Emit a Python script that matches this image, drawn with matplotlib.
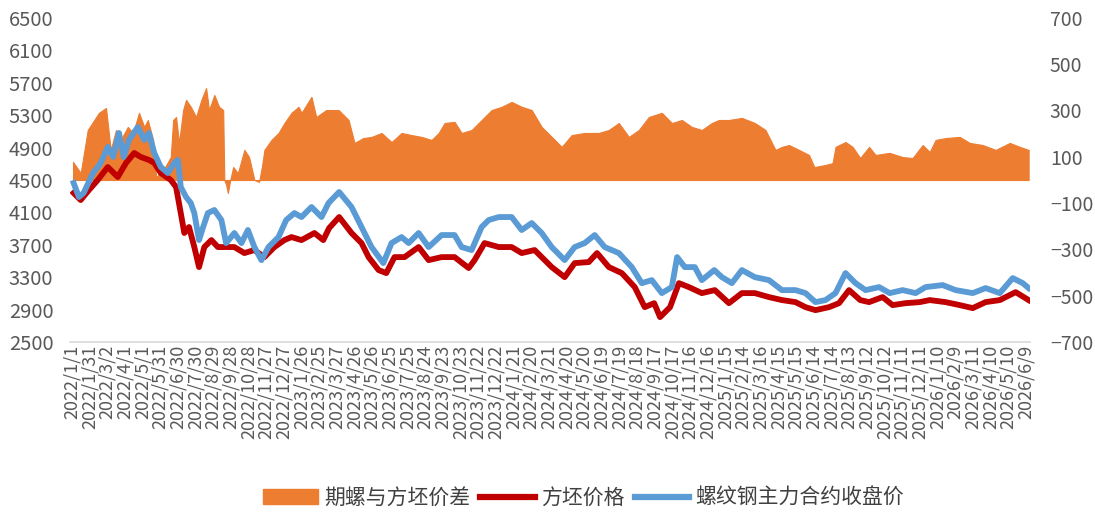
import matplotlib
matplotlib.use("Agg")
import matplotlib.pyplot as plt
from matplotlib.patches import Patch
from matplotlib.lines import Line2D
import pandas as pd

plt.rcParams['font.family'] = ['Noto Sans CJK SC', 'DejaVu Sans']

BASE = "2022-01-01"  # day offsets below are counted from this date

# 期螺与方坯价差 (right axis)
spread_days = [2, 15, 27, 46, 58, 66, 75, 83, 95, 104, 114, 123, 129, 138, 143, 155, 168,
               172, 177, 182, 189, 194, 202, 211, 220, 228, 233, 242, 250, 257, 259, 262, 265,
               269, 274, 282, 293, 301, 310, 318, 323, 327, 339, 351, 361, 373, 385,
               390, 407, 415, 432, 453, 470, 480, 495, 509, 526, 543, 560, 577, 594, 611, 623,
               633, 650, 662, 679, 696, 713, 730, 747, 764, 781, 798,
               815, 832, 849, 871, 895, 912, 929, 946, 963, 980, 1002, 1019, 1036, 1053, 1070,
               1087, 1099, 1116, 1138, 1160, 1178, 1195, 1206, 1218, 1235, 1252, 1261, 1280,
               1292, 1297, 1314, 1326, 1339, 1354, 1365, 1389, 1411, 1428, 1445, 1457, 1467,
               1484, 1508, 1525, 1547, 1569, 1593, 1610, 1625]
spread_vals = [78, 30, 216, 290, 311, 130, 216, 173, 229, 203, 290, 229, 259, 173, 13, 40, 100,
               259, 272, 160, 302, 346, 316, 272, 346, 397, 302, 367, 316, 302, 0, -20, -56,
               0, 56, 30, 130, 99, 0, -8, 60, 130, 173, 203, 246, 290, 316,
               290, 359, 272, 302, 302, 259, 160, 181, 186, 203, 164, 203, 194, 186, 173, 203,
               246, 251, 203, 216, 259, 302, 316, 337, 316, 302, 229,
               186, 143, 194, 203, 203, 216, 246, 186, 216, 272, 290, 246, 259, 229, 216,
               246, 259, 259, 268, 246, 216, 130, 143, 151, 130, 108, 56, 65,
               73, 143, 164, 143, 95, 143, 108, 117, 99, 95, 151, 121, 173,
               181, 186, 160, 151, 130, 160, 143, 130]

# 方坯价格 (left axis)
billet_days = [3, 15, 29, 44, 61, 78, 92, 106, 117, 131, 140, 151, 168, 177, 185, 191, 199,
               208, 216, 225, 237, 248, 259, 276, 293, 310, 327, 344, 361, 373,
               390, 412, 427, 437, 454, 475, 492, 504, 521, 534, 548, 565, 589, 606, 628, 650,
               674, 684, 701, 725, 747, 764, 786, 815, 837, 854, 878, 892, 912, 934, 956, 973,
               989, 999, 1016, 1031, 1048, 1070, 1092, 1116, 1138, 1160, 1184, 1206, 1229,
               1246, 1263, 1286, 1303, 1320, 1339, 1354, 1377, 1394, 1416, 1440, 1457, 1484,
               1508, 1530, 1552, 1576, 1603, 1625]
billet_vals = [4340, 4253, 4376, 4500, 4660, 4537, 4710, 4833, 4784, 4747, 4710, 4586, 4500,
               4413, 4092, 3846, 3920, 3673, 3426, 3673, 3759, 3673, 3673, 3673, 3599, 3636,
               3549, 3673, 3759, 3796,
               3759, 3846, 3759, 3907, 4043, 3846, 3722, 3549, 3389, 3352, 3549, 3549, 3673,
               3512, 3549, 3549, 3414, 3512, 3722, 3673, 3673, 3599, 3636, 3426, 3302, 3475,
               3488, 3599, 3426, 3352, 3179, 2932, 2981, 2809, 2932, 3228, 3179, 3105, 3142,
               2981, 3105, 3105, 3056, 3019, 2994, 2932, 2895, 2932, 2981, 3142, 3019, 2994,
               3056, 2957, 2981, 2994, 3019, 2994, 2957, 2920, 2994, 3019, 3117, 3019]

# 螺纹钢主力合约收盘价 (left axis)
rebar_days = [3, 12, 20, 36, 49, 61, 70, 80, 88, 97, 112, 123, 131, 140, 151, 163, 174, 180,
              185, 194, 202, 208, 216, 223, 231, 242, 254, 262, 276, 288, 299, 310, 322, 334,
              351, 364, 378, 390, 407, 424, 436, 454, 475, 492, 509, 529, 543, 560, 572, 589,
              606, 628, 650, 662, 679, 696, 708, 725, 747, 764, 781, 798, 815, 837, 854, 871,
              888, 905, 929, 951, 968, 985, 1002, 1019, 1028, 1041, 1058, 1070, 1091, 1104,
              1121, 1138, 1160, 1184, 1206, 1229, 1246, 1263, 1280, 1297, 1314, 1331, 1348,
              1371, 1389, 1411, 1433, 1450, 1479, 1501, 1530, 1552, 1576, 1598, 1615, 1625]
rebar_vals = [4463, 4290, 4340, 4586, 4710, 4907, 4784, 5080, 4784, 4994, 5154, 4994, 5080,
              4833, 4660, 4586, 4710, 4747, 4413, 4290, 4216, 4092, 3759, 3920, 4092, 4130,
              4006, 3722, 3846, 3722, 3883, 3673, 3512, 3673, 3796, 4006, 4092, 4043, 4167,
              4043, 4216, 4352, 4167, 3920, 3673, 3475, 3722, 3796, 3722, 3846, 3673, 3821,
              3821, 3673, 3636, 3920, 4006, 4043, 4043, 3883, 3969, 3846, 3673, 3512, 3673,
              3722, 3821, 3673, 3599, 3426, 3228, 3265, 3105, 3179, 3549, 3426, 3426, 3265,
              3389, 3302, 3228, 3389, 3302, 3265, 3142, 3142, 3105, 2994, 3019, 3105, 3352,
              3228, 3142, 3179, 3105, 3142, 3105, 3179, 3204, 3142, 3105, 3167, 3105, 3290,
              3228, 3167]

left_ticks = [2500, 2900, 3300, 3700, 4100, 4500, 4900, 5300, 5700, 6100, 6500]
right_ticks = [-700, -500, -300, -100, 100, 300, 500, 700]
legend_labels = ["期螺与方坯价差", "方坯价格", "螺纹钢主力合约收盘价"]

base = pd.Timestamp(BASE)
to_dates = lambda days: [base + pd.Timedelta(days=d) for d in days]

ORANGE = "#ED7D31"
RED = "#C00000"
BLUE = "#5B9BD5"
GRAY = "#595959"

fig = plt.figure(figsize=(10.95, 5.24), dpi=100)
ax = fig.add_axes([0.064, 0.347, 0.877, 0.619])
ax2 = ax.twinx()

ax2.fill_between(to_dates(spread_days), 0, spread_vals, color=ORANGE, lw=0.8,
                 edgecolor=ORANGE)
ax.plot(to_dates(billet_days), billet_vals, color=RED, lw=4.2, solid_joinstyle='round')
ax.plot(to_dates(rebar_days), rebar_vals, color=BLUE, lw=4.2, solid_joinstyle='round')

ax.set_zorder(ax2.get_zorder() + 1)
ax.patch.set_visible(False)

ax.set_ylim(2500, 6500)
ax2.set_ylim(-700, 700)
ax.set_yticks(left_ticks)
ax2.set_yticks(right_ticks)

xt = pd.date_range(BASE, periods=55, freq="30D")
ax.set_xticks(list(xt))
ax.set_xticklabels([f"{d.year}/{d.month}/{d.day}" for d in xt], rotation=90,
                   fontsize=13, color=GRAY)
ax.set_xlim(base - pd.Timedelta(days=3), base + pd.Timedelta(days=1628))

for a in (ax, ax2):
    for s in a.spines.values():
        s.set_visible(False)
    a.tick_params(length=0)
ax.spines['bottom'].set_visible(True)
ax.spines['bottom'].set_color("#D9D9D9")
ax.spines['bottom'].set_linewidth(1.2)
ax.tick_params(axis='y', labelsize=14.5, labelcolor=GRAY, pad=12)
ax.tick_params(axis='x', pad=2)
ax2.tick_params(axis='y', labelsize=14, labelcolor=GRAY, pad=14)

handles = [Patch(facecolor=ORANGE, edgecolor=ORANGE),
           Line2D([], [], color=RED, lw=4.5),
           Line2D([], [], color=BLUE, lw=4.5)]
fig.legend(handles, legend_labels, loc="center", bbox_to_anchor=(0.533, 0.05), ncol=3,
           frameon=False, fontsize=15, handlelength=2.6, handletextpad=0.3,
           columnspacing=0.5, labelcolor="#404040")

fig.savefig("out.png", dpi=100)
